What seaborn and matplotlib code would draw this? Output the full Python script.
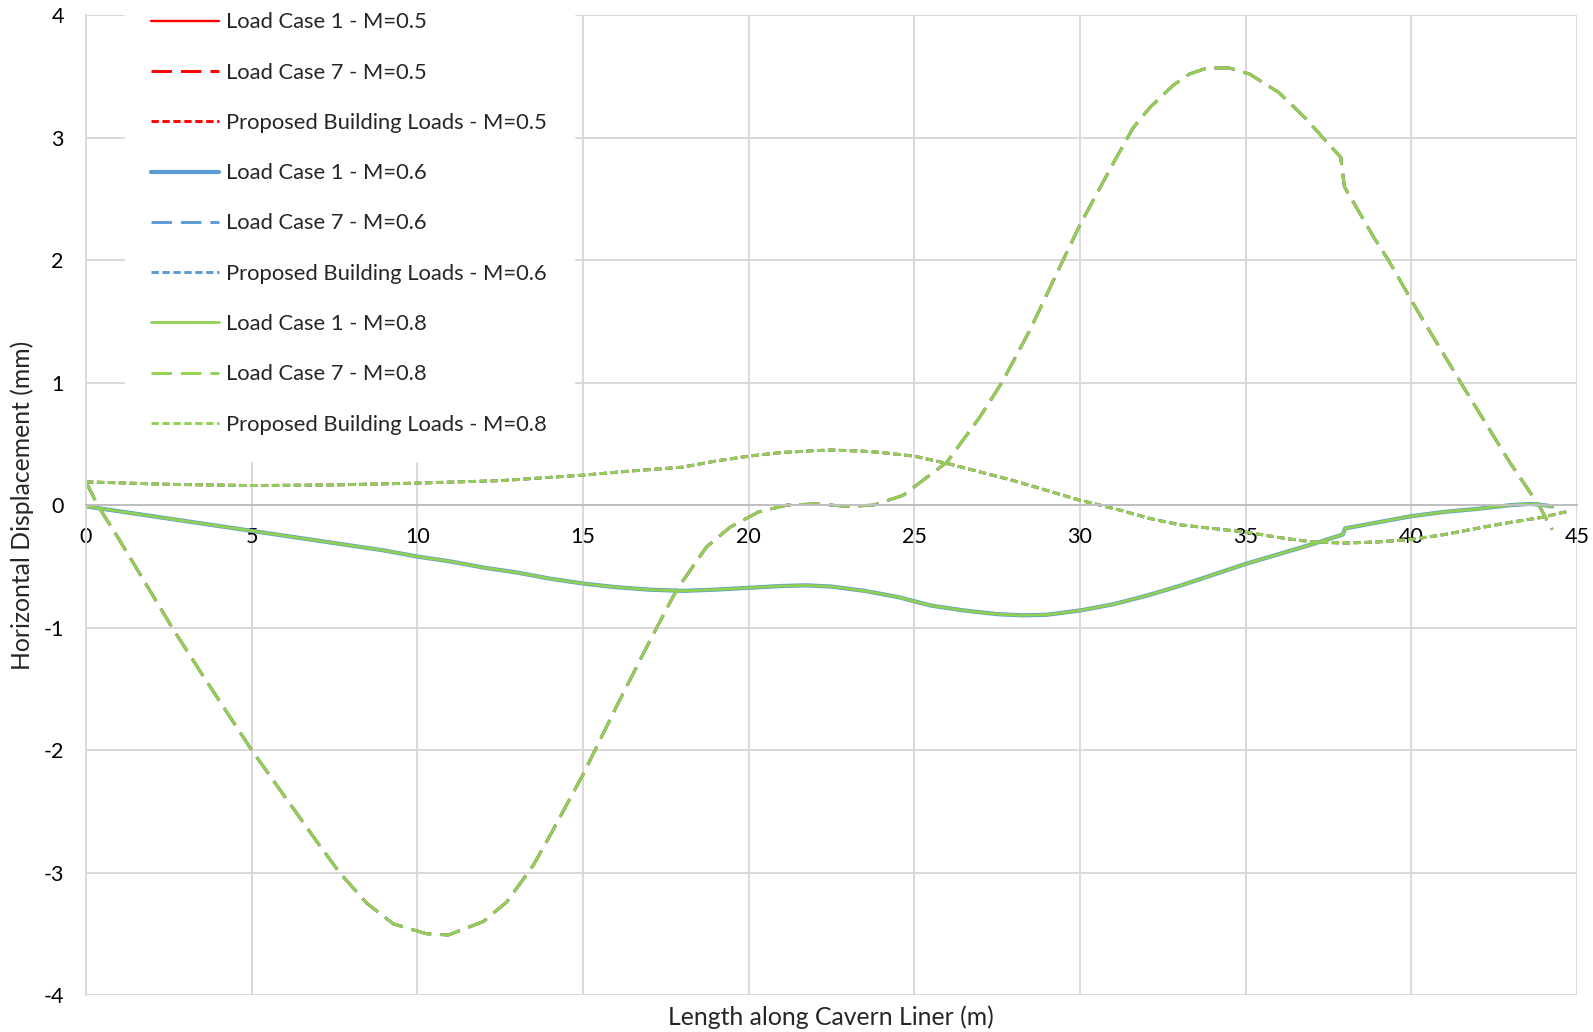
import matplotlib
matplotlib.use("Agg")
import matplotlib.pyplot as plt
import seaborn as sns
import pandas as pd

# ---------------- data ----------------
# Load Case 1 (same curve for all M values - the three series overlap)
lc1_x = [0, 1, 2, 3, 4, 5, 6, 7, 8, 9, 10, 11, 12, 13, 14, 15, 16, 17, 18, 19,
         20, 21, 21.75, 22.5, 23.5, 24.5, 25.5, 26.5, 27.5, 28.3, 29, 30, 31, 32,
         33, 34, 35, 36, 37, 37.93, 38.0, 39, 40, 41, 42, 43, 43.6, 44.0, 44.25]
lc1_y = [-0.01, -0.05, -0.09, -0.13, -0.17, -0.21, -0.25, -0.29, -0.33, -0.37,
         -0.42, -0.46, -0.51, -0.55, -0.60, -0.64, -0.67, -0.69, -0.70, -0.69,
         -0.675, -0.66, -0.655, -0.665, -0.70, -0.75, -0.82, -0.86, -0.89, -0.90,
         -0.895, -0.86, -0.81, -0.74, -0.66, -0.57, -0.48, -0.40, -0.32, -0.24,
         -0.19, -0.14, -0.09, -0.055, -0.03, 0.0, 0.01, 0.0, -0.01]

# Load Case 7
lc7_x = [0, 0.35, 1, 2, 2.6, 3.5, 5, 6, 7, 7.65, 8.47, 9.28, 10.28, 10.94,
         11.99, 12.7, 13.5, 14, 15, 16, 17.07, 17.83, 18.73, 19.44, 20.3, 21.15,
         22, 23, 23.76, 24.66, 25.98, 26.98, 27.64, 28.49, 29.4, 30, 31, 31.6,
         32.12, 32.82, 33.3, 33.83, 34.5, 35.12, 36, 36.84, 37.3, 37.87, 37.98,
         38.86, 39.31, 40.2, 41.56, 42.97, 43.87, 44.25]
lc7_y = [0.19, 0.0, -0.28, -0.73, -1.0, -1.38, -2.0, -2.38, -2.76, -3.0, -3.25,
         -3.42, -3.50, -3.51, -3.40, -3.24, -2.94, -2.70, -2.20, -1.65, -1.08,
         -0.69, -0.34, -0.18, -0.055, 0.0, 0.01, -0.01, 0.0, 0.08, 0.35, 0.72,
         1.0, 1.43, 1.95, 2.29, 2.79, 3.08, 3.25, 3.43, 3.52, 3.57, 3.57, 3.52,
         3.37, 3.15, 3.01, 2.84, 2.60, 2.19, 2.0, 1.58, 0.97, 0.35, -0.01, -0.2]

# Proposed Building Loads
pbl_x = [0, 2.5, 5, 7.5, 10, 12.5, 15, 16.5, 18, 19, 20, 21, 22, 22.5, 23.5, 24,
         25, 26, 27, 28, 29, 30, 31.2, 32.12, 33, 34, 35, 36.14, 37, 38, 39, 40,
         41, 42.17, 43, 43.94, 44.73]
pbl_y = [0.19, 0.17, 0.16, 0.165, 0.18, 0.20, 0.245, 0.28, 0.31, 0.36, 0.40,
         0.43, 0.445, 0.45, 0.44, 0.43, 0.40, 0.34, 0.27, 0.20, 0.12, 0.04, -0.04,
         -0.11, -0.16, -0.19, -0.22, -0.27, -0.30, -0.31, -0.30, -0.28, -0.24,
         -0.18, -0.14, -0.10, -0.05]

m_values = ["0.5", "0.6", "0.8"]
case_names = ["Load Case 1", "Load Case 7", "Proposed Building Loads"]
x_ticks = [0, 5, 10, 15, 20, 25, 30, 35, 40, 45]
y_ticks = [-4, -3, -2, -1, 0, 1, 2, 3, 4]
x_label = "Length along Cavern Liner (m)"
y_label = "Horizontal Displacement (mm)"

# ---------------- styling ----------------
colors = {"0.5": "#FF0000", "0.6": "#5B9BD5", "0.8": "#92D050"}
solid_lw = {"0.5": 1.7, "0.6": 3.0, "0.8": 2.0}
dash_lw = 2.1
long_dash = (0, (7.0, 3.1))
short_dash = (0, (2.5, 1.25))

sns.set_style("white")
plt.rcParams["font.family"] = ["Lato", "DejaVu Sans"]
plt.rcParams["axes.unicode_minus"] = False

W, H = 1593, 1032
fig = plt.figure(figsize=(W / 100, H / 100), dpi=100)
left, right, top, bottom = 86, 1577, 15.3, 995
ax = fig.add_axes([left / W, 1 - bottom / H, (right - left) / W, (bottom - top) / H])

series = [(lc1_x, lc1_y), (lc7_x, lc7_y), (pbl_x, pbl_y)]
for m in m_values:
    for ci, (name, (xs, ys)) in enumerate(zip(case_names, series)):
        df = pd.DataFrame({"x": xs, "y": ys})
        if ci == 0:
            ls, lw = "-", solid_lw[m]
        elif ci == 1:
            ls, lw = long_dash, dash_lw
        else:
            ls, lw = short_dash, dash_lw
        sns.lineplot(data=df, x="x", y="y", ax=ax, sort=False, estimator=None,
                     color=colors[m], linestyle=ls, linewidth=lw,
                     label=f"{name} - M={m}", legend=False)

ax.set_xlabel("")
ax.set_ylabel("")
ax.set_xlim(0, 45)
ax.set_ylim(-4, 4)
ax.set_xticks(x_ticks)
ax.set_yticks(y_ticks)
ax.set_xticklabels([str(v) for v in x_ticks])
ax.set_yticklabels([str(v) for v in y_ticks])

grid_c = "#d9d9d9"
ax.grid(True, color=grid_c, linewidth=1.4)
ax.set_axisbelow(True)
for s in ["top", "right"]:
    ax.spines[s].set_visible(False)
ax.spines["left"].set_color(grid_c)
ax.spines["left"].set_linewidth(1.4)
ax.spines["bottom"].set_position(("data", 0))
ax.spines["bottom"].set_color("#bfbfbf")
ax.spines["bottom"].set_linewidth(1.4)
ax.tick_params(axis="both", length=0, labelsize=15.5, colors="black")
ax.tick_params(axis="x", pad=16)
ax.tick_params(axis="y", pad=16)

fig.text(831 / W, 1 - 1017 / H, x_label, ha="center", va="center", fontsize=17.8)
fig.text(22 / W, 1 - 505 / H, y_label, ha="center", va="center",
         rotation=90, fontsize=17.8)

handles = ax.get_lines()[:9]
labels = [h.get_label() for h in handles]
leg = fig.legend(handles, labels, loc="upper left",
                 bbox_to_anchor=(125 / W, 1 + 14 / H), borderaxespad=0,
                 frameon=True, fancybox=False, framealpha=1, facecolor="white",
                 edgecolor="white", fontsize=15.8, handlelength=3.1,
                 handletextpad=0.32, labelspacing=1.38, borderpad=1.2)
leg.set_zorder(5)

fig.savefig("out.png", dpi=100)
